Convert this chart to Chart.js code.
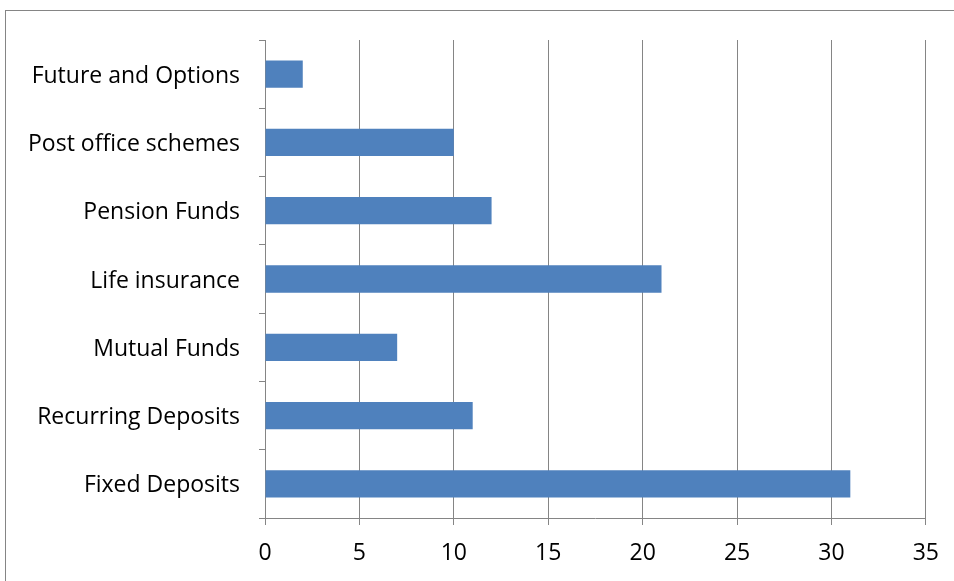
<!DOCTYPE html>
<html>
<head>
<meta charset="utf-8">
<script src="https://cdn.jsdelivr.net/npm/chart.js@4"></script>
<style>
  html, body { margin: 0; padding: 0; background: #fff; }
  #wrap { width: 954px; height: 581px; position: relative; }
</style>
</head>
<body>
<div id="wrap"><canvas id="myChart"></canvas></div>
<script>
// values
var categories = ['Future and Options', 'Post office schemes', 'Pension Funds', 'Life insurance', 'Mutual Funds', 'Recurring Deposits', 'Fixed Deposits'];
var investors = [2, 10, 12, 21, 7, 11, 31];
var xTicks = [0, 5, 10, 15, 20, 25, 30, 35];

var lineGray = '#858585';

// outer frame around the chart
var framePlugin = {
    id: 'frame',
    afterDraw: function(chart) {
        var ctx = chart.ctx;
        ctx.save();
        ctx.strokeStyle = lineGray;
        ctx.lineWidth = 1;
        ctx.strokeRect(5.5, 10.5, 1000, 1000);
        ctx.restore();
    }
};

Chart.defaults.font.family = '"Open Sans", Lato, sans-serif';
Chart.defaults.color = '#000';

var ctx = document.getElementById('myChart').getContext('2d');
var chart = new Chart(ctx, {
    type: 'bar',
    data: {
        labels: categories,
        datasets: [{
            data: investors,
            backgroundColor: '#4F81BD',
            borderWidth: 0,
            barPercentage: 0.4,
            categoryPercentage: 1
        }]
    },
    options: {
        indexAxis: 'y',
        responsive: true,
        maintainAspectRatio: false,
        animation: false,
        layout: { padding: { left: 0, right: 28, top: 40, bottom: 0 } },
        plugins: {
            legend: { display: false },
            tooltip: { enabled: false }
        },
        scales: {
            x: {
                min: 0,
                max: 35,
                afterBuildTicks: function(scale) {
                    scale.ticks = xTicks.map(function(v) { return { value: v }; });
                },
                afterFit: function(scale) { scale.height = 63; },
                grid: { color: lineGray, lineWidth: 1, tickLength: 7, drawOnChartArea: true },
                border: { color: lineGray, width: 1 },
                ticks: { font: { size: 23 }, padding: 15, maxRotation: 0 }
            },
            y: {
                afterFit: function(scale) { scale.width = 265; },
                grid: { offset: true, drawOnChartArea: false, tickLength: 6, color: lineGray },
                border: { color: lineGray, width: 1 },
                ticks: { font: { size: 23 }, padding: 19, labelOffset: 2 }
            }
        }
    },
    plugins: [framePlugin]
});
</script>
</body>
</html>
